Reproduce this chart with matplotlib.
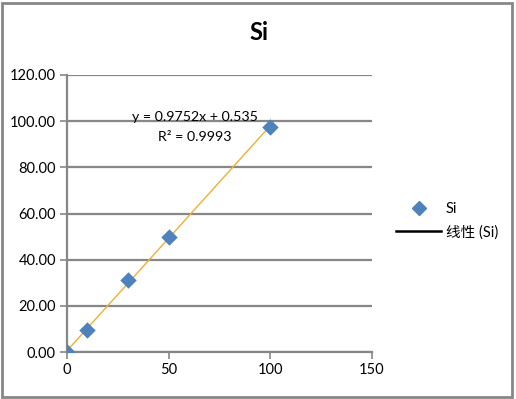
import matplotlib.pyplot as plt
import numpy as np
from matplotlib.lines import Line2D
from matplotlib.patches import Rectangle

plt.rcParams['font.family'] = ['Lato', 'Noto Sans CJK SC', 'DejaVu Sans']

# data
x_vals = [0, 10, 30, 50, 100]
y_vals = [0.1, 9.5, 31.2, 49.7, 97.4]
slope = 0.9752
intercept = 0.535
r2 = 0.9993
x_ticks = [0, 50, 100, 150]
y_ticks = [0, 20, 40, 60, 80, 100, 120]

W, H = 516, 399
fig = plt.figure(figsize=(W / 100, H / 100), dpi=100)
ax = fig.add_axes([67 / W, 1 - 352 / H, (372 - 67) / W, (352 - 75) / H])

# grid
for yt in y_ticks:
    ax.axhline(yt, color='#878787', lw=1.6, zorder=1)

# trendline
xf = np.array([min(x_vals), max(x_vals)])
ax.plot(xf, slope * xf + intercept, color='#F0B030', lw=1.0, zorder=2)

# points
ax.scatter(x_vals, y_vals, marker='D', s=70, color='#4F81BD', zorder=3, linewidths=0)

ax.set_xlim(0, 150)
ax.set_ylim(0, 120)
ax.set_xticks(x_ticks)
ax.set_yticks(y_ticks)
ax.set_yticklabels([f'{v:.2f}' for v in y_ticks])
for s in ['top', 'right']:
    ax.spines[s].set_visible(False)
for s in ['left', 'bottom']:
    ax.spines[s].set_color('#878787')
    ax.spines[s].set_linewidth(1.6)
ax.tick_params(axis='both', color='#878787', width=1.2, length=5, labelsize=10.5, pad=3)

ax.text(63, 102, f'y = {slope}x + {intercept}', ha='center', va='center', fontsize=10.2)
ax.text(63, 93.3, f'R² = {r2}', ha='center', va='center', fontsize=10.2)

fig.text(259 / W, 1 - 33 / H, 'Si', ha='center', va='center', fontsize=17, fontweight='bold')

# legend
handles = [Line2D([], [], marker='D', ls='none', color='#4F81BD', markersize=7),
           Line2D([], [], color='black', lw=1.8)]
fig.legend(handles, ['Si', '线性 (Si)'], loc='center left',
           bbox_to_anchor=(383 / W, 1 - 221 / H), frameon=False, fontsize=10.5,
           handlelength=3.1, handletextpad=0.3, labelspacing=0.6, markerfirst=True)

# outer border
fig.patches.append(Rectangle((2 / W, 2 / H), (W - 6) / W, (H - 5) / H, transform=fig.transFigure,
                             fill=False, edgecolor='#878787', lw=2))

fig.savefig('out.png', dpi=100)
